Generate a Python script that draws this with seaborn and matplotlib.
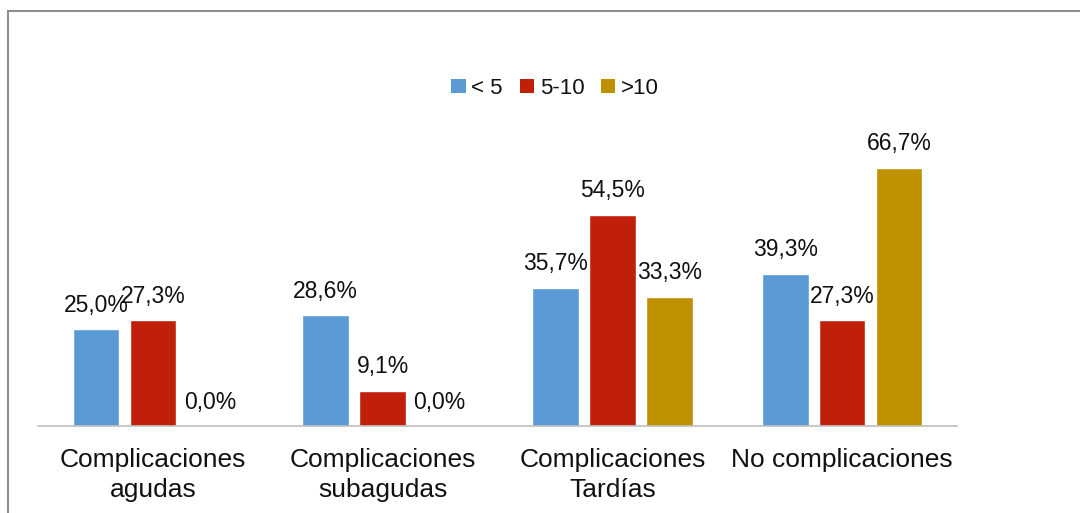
import matplotlib
matplotlib.use("Agg")
import matplotlib.pyplot as plt
import seaborn as sns
import pandas as pd
from matplotlib.patches import Rectangle, Patch

categories = ["Complicaciones\nagudas", "Complicaciones\nsubagudas",
              "Complicaciones\nTardías", "No complicaciones"]
groups = ["< 5", "5-10", ">10"]
vals_lt5 = [25.0, 28.6, 35.7, 39.3]
vals_5_10 = [27.3, 9.1, 54.5, 27.3]
vals_gt10 = [0.0, 0.0, 33.3, 66.7]
colors = ["#5B9BD5", "#C0200A", "#BF9000"]

rows = []
for g, vals in zip(groups, [vals_lt5, vals_5_10, vals_gt10]):
    for c, v in zip(categories, vals):
        rows.append({"cat": c, "grp": g, "val": v})
df = pd.DataFrame(rows)

sns.set_theme(style="white")
plt.rcParams["font.family"] = ["Liberation Sans", "DejaVu Sans"]

fig = plt.figure(figsize=(10.8, 5.13), dpi=100)
ax = fig.add_axes([38/1080, 1-426/513, (957-38)/1080, (426-116)/513])

sns.barplot(data=df, x="cat", y="val", hue="grp", order=categories,
            hue_order=groups, palette=colors, width=0.744, gap=0.18,
            ax=ax, legend=False, saturation=1)

for cont in ax.containers:
    ax.bar_label(cont, labels=[f"{b.get_height():.1f}".replace(".", ",") + "%" for b in cont],
                 padding=9, fontsize=16.5, color="#111111")

ax.set_ylim(0, 80)
ax.set_xlim(-0.5, 3.5)
ax.set_xlabel("")
ax.set_ylabel("")
ax.set_yticks([])
ax.tick_params(axis="x", length=0, labelsize=19, pad=16, colors="#111111")
for lbl in ax.get_xticklabels():
    lbl.set_linespacing(1.3)
for s in ["top", "left", "right"]:
    ax.spines[s].set_visible(False)
ax.spines["bottom"].set_color("#BFBFBF")
ax.spines["bottom"].set_linewidth(1.2)

handles = [Patch(facecolor=c, edgecolor="none") for c in colors]
fig.legend(handles, groups, loc="center", bbox_to_anchor=(0.514, 0.828), ncol=3,
           frameon=False, fontsize=16, handlelength=0.65, handleheight=0.65,
           handletextpad=0.25, columnspacing=0.75, labelcolor="#111111")

fig.patches.append(Rectangle((8/1080, -0.5), 2, 0.5 + (1 - 11/513),
                             transform=fig.transFigure, fill=False,
                             edgecolor="#8C8C8C", linewidth=1.5, clip_on=False))

fig.savefig("out.png", dpi=100)
